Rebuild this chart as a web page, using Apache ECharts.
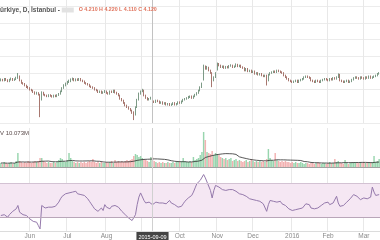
<!DOCTYPE html>
<html><head><meta charset="utf-8">
<script src="https://cdn.jsdelivr.net/npm/echarts@6/dist/echarts.min.js"></script>
<style>html,body{margin:0;padding:0;background:#fff}#c{width:380px;height:240px}</style>
</head><body><div id="c"></div>
<script>
const startDate = '2015-05-07';
const endDate = '2016-03-14';
const crossDate = '2015-09-09';
const titleText = 'ürkiye, D, İstanbul - ';
const ohlcText = 'O 4.210 H 4.220 L 4.110 C 4.120';
const volText = 'V 10.073M';
const rsiBand = [30, 70];
// month tick labels (Jan shown as year); Sep is hidden under the crosshair date box
const monthTickLabels = ['2016','Feb','Mar','Apr','May','Jun','Jul','Aug','','Oct','Nov','Dec'];

const opens = [
4.62,4.64,4.62,4.66,4.63,4.60,4.64,4.66,4.63,4.65,
4.68,4.72,4.62,4.56,4.54,4.50,4.46,4.44,4.40,4.38,
4.34,4.30,4.32,4.28,4.16,4.34,4.28,4.26,4.24,4.27,
4.25,4.23,4.26,4.24,4.27,4.30,4.36,4.44,4.50,4.54,
4.58,4.60,4.64,4.66,4.62,4.65,4.63,4.66,4.62,4.60,
4.56,4.54,4.52,4.48,4.46,4.44,4.40,4.38,4.34,4.36,
4.32,4.34,4.36,4.32,4.30,4.36,4.34,4.38,4.33,4.30,
4.26,4.18,4.14,4.08,4.02,3.98,3.94,3.90,3.84,3.80,
3.98,4.16,4.30,4.36,4.39,4.26,4.20,4.16,4.18,4.21,
4.12,4.10,4.14,4.12,4.08,4.10,4.06,4.08,4.04,4.06,
4.03,4.05,4.08,4.04,4.06,4.10,4.08,4.12,4.16,4.18,
4.20,4.22,4.24,4.20,4.24,4.28,4.32,4.38,4.46,4.64,
4.96,4.90,4.94,4.86,4.80,4.62,4.70,4.88,5.02,4.98,
4.94,4.96,4.92,4.95,4.93,4.97,4.98,4.94,4.96,5.00,
4.96,4.98,4.94,4.92,4.86,4.90,4.84,4.86,4.82,4.84,
4.78,4.80,4.76,4.78,4.74,4.72,4.74,4.62,4.76,4.80,
4.82,4.84,4.82,4.86,4.84,4.82,4.80,4.74,4.70,4.66,
4.62,4.60,4.58,4.60,4.62,4.58,4.62,4.64,4.66,4.70,
4.72,4.70,4.68,4.62,4.60,4.58,4.62,4.60,4.58,4.62,
4.64,4.66,4.64,4.62,4.66,4.64,4.68,4.66,4.70,4.76,
4.62,4.60,4.58,4.60,4.62,4.58,4.60,4.64,4.68,4.70,
4.68,4.66,4.70,4.68,4.66,4.70,4.68,4.72,4.68,4.70,
4.72,4.74,4.78];
const closes = [
4.64,4.62,4.66,4.63,4.60,4.64,4.66,4.63,4.65,4.68,
4.72,4.62,4.56,4.54,4.50,4.46,4.44,4.40,4.38,4.34,
4.30,4.32,4.28,4.16,4.34,4.28,4.26,4.24,4.27,4.25,
4.23,4.26,4.24,4.27,4.30,4.36,4.44,4.50,4.54,4.58,
4.60,4.64,4.66,4.62,4.65,4.63,4.66,4.62,4.60,4.56,
4.54,4.52,4.48,4.46,4.44,4.40,4.38,4.34,4.36,4.32,
4.34,4.36,4.32,4.30,4.36,4.34,4.38,4.33,4.30,4.26,
4.18,4.14,4.08,4.02,3.98,3.94,3.90,3.84,3.80,3.98,
4.16,4.30,4.36,4.39,4.26,4.20,4.16,4.18,4.20,4.12,
4.10,4.14,4.12,4.08,4.10,4.06,4.08,4.04,4.06,4.03,
4.05,4.08,4.04,4.06,4.10,4.08,4.12,4.16,4.18,4.20,
4.22,4.24,4.20,4.24,4.28,4.32,4.38,4.46,4.54,4.96,
4.90,4.94,4.86,4.80,4.62,4.70,4.80,5.02,4.98,4.94,
4.96,4.92,4.95,4.93,4.97,4.98,4.94,4.96,5.00,4.96,
4.98,4.94,4.92,4.86,4.90,4.84,4.86,4.82,4.84,4.78,
4.80,4.76,4.78,4.74,4.72,4.74,4.62,4.76,4.80,4.82,
4.84,4.82,4.86,4.84,4.82,4.80,4.74,4.70,4.66,4.62,
4.60,4.58,4.60,4.62,4.58,4.62,4.64,4.66,4.70,4.72,
4.70,4.68,4.62,4.60,4.58,4.62,4.60,4.58,4.62,4.64,
4.66,4.64,4.62,4.66,4.64,4.68,4.66,4.70,4.76,4.62,
4.60,4.58,4.60,4.62,4.58,4.60,4.64,4.68,4.70,4.68,
4.66,4.70,4.68,4.66,4.70,4.68,4.72,4.68,4.70,4.72,
4.74,4.78,4.80];
const highs = [
4.67,4.66,4.68,4.68,4.65,4.66,4.69,4.68,4.67,4.71,
4.80,4.74,4.64,4.58,4.56,4.52,4.49,4.46,4.42,4.40,
4.36,4.35,4.34,4.30,4.36,4.35,4.30,4.28,4.29,4.29,
4.27,4.28,4.28,4.29,4.32,4.38,4.46,4.53,4.57,4.61,
4.64,4.67,4.69,4.68,4.67,4.67,4.68,4.68,4.64,4.62,
4.58,4.56,4.54,4.50,4.48,4.46,4.42,4.40,4.38,4.38,
4.36,4.39,4.38,4.34,4.38,4.38,4.40,4.40,4.35,4.32,
4.28,4.20,4.16,4.10,4.04,4.00,3.96,3.92,3.88,4.00,
4.18,4.33,4.38,4.42,4.40,4.28,4.22,4.20,4.23,4.22,
4.14,4.16,4.16,4.14,4.12,4.12,4.10,4.10,4.08,4.08,
4.07,4.10,4.10,4.08,4.12,4.12,4.14,4.18,4.20,4.22,
4.25,4.26,4.26,4.26,4.30,4.34,4.40,4.48,4.57,5.00,
4.98,4.97,4.95,4.88,4.82,4.72,4.82,5.05,5.04,5.00,
4.98,4.98,4.97,4.97,4.99,5.01,5.00,4.98,5.03,5.02,
5.00,5.00,4.96,4.94,4.92,4.92,4.88,4.88,4.86,4.86,
4.82,4.82,4.80,4.80,4.76,4.76,4.76,4.78,4.82,4.84,
4.86,4.86,4.88,4.88,4.86,4.84,4.82,4.76,4.72,4.68,
4.64,4.62,4.62,4.64,4.64,4.64,4.66,4.68,4.72,4.74,
4.74,4.72,4.70,4.64,4.62,4.64,4.64,4.62,4.64,4.66,
4.68,4.68,4.66,4.68,4.68,4.70,4.70,4.72,4.79,4.78,
4.64,4.62,4.62,4.64,4.64,4.62,4.66,4.70,4.72,4.72,
4.70,4.72,4.72,4.70,4.72,4.72,4.74,4.74,4.72,4.74,
4.76,4.80,4.82];
const lows = [
4.60,4.60,4.60,4.61,4.58,4.58,4.62,4.61,4.61,4.63,
4.66,4.60,4.54,4.52,4.48,4.44,4.42,4.38,4.36,4.32,
4.28,4.28,4.26,3.74,4.14,4.26,4.24,4.22,4.22,4.23,
4.21,4.21,4.22,4.22,4.25,4.28,4.34,4.42,4.48,4.52,
4.56,4.58,4.62,4.60,4.60,4.61,4.61,4.60,4.58,4.54,
4.52,4.50,4.46,4.44,4.42,4.38,4.36,4.32,4.32,4.30,
4.30,4.32,4.30,4.28,4.28,4.32,4.32,4.31,4.28,4.24,
4.16,4.12,4.06,4.00,3.96,3.92,3.88,3.82,3.67,3.78,
3.96,4.14,4.28,4.34,4.24,4.18,4.14,4.14,4.16,4.11,
4.08,4.08,4.10,4.06,4.06,4.04,4.04,4.02,4.02,4.01,
4.01,4.03,4.02,4.02,4.04,4.06,4.06,4.10,4.14,4.16,
4.18,4.20,4.18,4.18,4.22,4.26,4.30,4.36,4.44,4.62,
4.88,4.88,4.84,4.78,4.46,4.60,4.68,4.86,4.96,4.92,
4.92,4.90,4.90,4.91,4.91,4.95,4.92,4.92,4.94,4.94,
4.94,4.92,4.90,4.84,4.84,4.82,4.82,4.80,4.80,4.76,
4.76,4.74,4.74,4.72,4.70,4.70,4.50,4.60,4.74,4.78,
4.80,4.80,4.80,4.82,4.80,4.78,4.72,4.68,4.64,4.60,
4.58,4.56,4.56,4.58,4.56,4.56,4.60,4.62,4.64,4.68,
4.68,4.66,4.60,4.58,4.56,4.56,4.58,4.56,4.56,4.60,
4.62,4.62,4.60,4.60,4.62,4.62,4.64,4.64,4.68,4.60,
4.58,4.56,4.56,4.58,4.56,4.56,4.58,4.62,4.66,4.66,
4.64,4.64,4.66,4.64,4.64,4.66,4.66,4.66,4.66,4.68,
4.70,4.72,4.76];
// volume in millions
const volumes = [
4,3,5,4,3,4,5,3,4,6,
14,6,5,4,5,4,6,5,4,5,
6,5,6,9,9,6,5,4,5,4,
4,5,4,5,7,9,8,6,5,7,
14,9,6,5,4,5,4,5,4,5,
4,5,6,5,8,5,4,5,4,5,
4,4,5,4,5,6,4,7,5,6,
5,6,5,6,7,6,7,8,11,13,
12,10,11,9,8,7,6,5,10,10.073,
6,5,4,5,4,5,4,4,5,4,
4,5,4,5,6,5,6,9,6,5,
5,6,5,10,7,8,9,12,15,35,
27,15,14,13,16,12,14,13,12,10,
9,8,9,7,8,9,6,7,8,6,
7,6,5,6,7,5,6,8,6,5,
6,5,6,5,6,5,8,18,9,7,
6,14,7,6,5,6,5,6,5,5,
4,5,4,5,4,4,5,4,3,4,
4,3,4,4,3,4,5,4,3,4,
4,3,4,5,4,4,8,5,6,4,
4,3,7,4,3,4,5,4,5,4,
4,5,4,5,4,4,5,4,5,11,
5,6,8];
const rsi = [
32,31,33,31,30,33,35,37,38,40,
44,36,34,33,31,32,30,28,27,25,
26,24,20,16,44,42,41,43,42,40,
42,41,43,45,48,52,55,56,58,60,
59,61,60,59,61,58,60,57,58,56,
55,52,49,46,43,40,38,37,39,41,
38,45,42,41,40,43,42,44,46,42,
40,37,35,33,31,29,28,26,24,33,
45,54,59,57,50,47,46,48,47,45,
46,48,46,47,46,47,48,46,48,50,
47,46,45,43,42,41,43,46,49,51,
53,55,56,60,65,70,72,74,76,81,
77,72,73,62,53,62,68,70,66,64,
63,65,62,64,63,61,63,62,61,60,
58,59,57,56,55,53,52,50,51,49,
50,48,49,47,46,44,37,45,50,51,
49,50,48,47,49,46,45,44,42,40,
39,38,37,39,41,40,42,41,43,46,
48,45,41,39,40,39,41,42,44,45,
47,46,48,45,46,47,49,55,47,43,
42,44,46,48,50,52,54,57,59,55,
53,51,52,53,51,52,53,54,66,60,
56,58,57];

function buildDates(a, b) {
  const out = [];
  let t = Date.parse(a + 'T00:00:00Z');
  const end = Date.parse(b + 'T00:00:00Z');
  while (t <= end) {
    const d = new Date(t);
    const wd = d.getUTCDay();
    if (wd !== 0 && wd !== 6) out.push(d.toISOString().slice(0, 10));
    t += 86400000;
  }
  return out;
}
const dates = buildDates(startDate, endDate);
const isMonthStart = (i) => i > 0 && dates[i] && dates[i - 1] && dates[i].slice(0, 7) !== dates[i - 1].slice(0, 7);
const candle = dates.map((d, i) => [opens[i], closes[i], lows[i], highs[i]]);
// 20-period simple moving average of volume
const volMA = volumes.map((v, i) => {
  const s = Math.max(0, i - 19);
  const w = volumes.slice(s, i + 1);
  return +(w.reduce((a, b) => a + b, 0) / w.length).toFixed(3);
});

const UP = '#7d9a86', DOWN = '#a8776f';
const FONT = 'Liberation Sans, Arial, sans-serif';
const gridLineColor = '#e8e8e8';

function xAx(grid, extra) {
  return Object.assign({
    type: 'category', gridIndex: grid, data: dates, boundaryGap: true,
    axisTick: { show: false }, axisLabel: { show: false }, axisLine: { show: false },
    splitLine: { show: true, interval: (i) => isMonthStart(i), lineStyle: { color: gridLineColor, width: 1 } }
  }, extra || {});
}
const crossLine = { xAxis: crossDate };

const chart = echarts.init(document.getElementById('c'), null, { renderer: 'canvas' });
chart.setOption({
  animation: false,
  backgroundColor: '#ffffff',
  textStyle: { fontFamily: FONT },
  title: [
    {
      left: 0, top: 0, padding: [1, 0, 0, 0],
      text: '{a|' + titleText + '}{b|}{s|}{c|' + ohlcText + '}',
      textStyle: {
        rich: {
          a: { fontSize: 6.5, color: '#555555', fontFamily: FONT },
          b: { width: 12, height: 5, backgroundColor: '#e2e2e2' },
          s: { width: 5 },
          c: { fontSize: 5.3, color: '#e0735c', fontFamily: FONT }
        }
      }
    },
    { left: 0, top: 130, padding: 0, text: volText, textStyle: { fontSize: 6, color: '#5a4a4a', fontWeight: 'normal', fontFamily: FONT } }
  ],
  grid: [
    { left: 0, right: 0, top: 0, height: 123 },
    { left: 0, right: 0, top: 128, height: 39 },
    { left: 0, right: 0, top: 167, height: 65 }
  ],
  xAxis: [
    xAx(0),
    xAx(1, { position: 'top', axisLine: { show: true, lineStyle: { color: '#a0a0a0', width: 1 } } }),
    xAx(2, { position: 'top', axisLine: { show: true, lineStyle: { color: '#a0a0a0', width: 1 } } }),
    xAx(2, {
      position: 'bottom',
      axisLine: { show: true, lineStyle: { color: '#dcdcdc', width: 1 } },
      splitLine: { show: false },
      axisLabel: {
        show: true, margin: 2, fontSize: 6.5, color: '#8a8a8a', fontFamily: FONT,
        interval: (i) => isMonthStart(i) && monthTickLabels[parseInt(dates[i].slice(5, 7), 10) - 1] !== '',
        formatter: (v) => monthTickLabels[parseInt(v.slice(5, 7), 10) - 1]
      }
    })
  ],
  yAxis: [
    { type: 'value', gridIndex: 0, min: 3.6, max: 6.552, interval: 0.4,
      axisLabel: { show: false }, axisLine: { show: false }, axisTick: { show: false },
      splitLine: { show: true, showMaxLine: false, lineStyle: { color: '#ececec' } } },
    { type: 'value', gridIndex: 1, min: 0, max: 39, show: false, splitLine: { show: false } },
    { type: 'value', gridIndex: 2, min: 13.5, max: 90, show: false, splitLine: { show: false } }
  ],
  series: [
    {
      type: 'candlestick', xAxisIndex: 0, yAxisIndex: 0, data: candle, barMaxWidth: 2,
      itemStyle: { color: UP, color0: DOWN, borderColor: UP, borderColor0: DOWN, borderWidth: 1 },
      markLine: { silent: true, symbol: 'none', label: { show: false },
        lineStyle: { color: '#c2c2c2', type: 'solid', width: 1 }, data: [crossLine] }
    },
    {
      type: 'bar', xAxisIndex: 1, yAxisIndex: 1, data: volumes, barCategoryGap: '15%',
      itemStyle: { color: (p) => closes[p.dataIndex] >= opens[p.dataIndex] ? 'rgba(83,185,120,0.6)' : 'rgba(230,100,100,0.5)' },
      markLine: { silent: true, symbol: 'none', label: { show: false },
        lineStyle: { color: '#d0d0d0', type: 'solid', width: 1 }, data: [crossLine] }
    },
    {
      type: 'line', xAxisIndex: 1, yAxisIndex: 1, data: volMA, symbol: 'none',
      lineStyle: { color: '#3a3a3a', width: 1, opacity: 0.85 }
    },
    {
      type: 'line', xAxisIndex: 2, yAxisIndex: 2, data: rsi, symbol: 'none',
      lineStyle: { color: '#9479ab', width: 1 },
      markArea: { silent: true, itemStyle: { color: '#f5e7f3' },
        data: [[{ yAxis: rsiBand[0] }, { yAxis: rsiBand[1] }]] },
      markLine: {
        silent: true, symbol: 'none',
        data: [
          { yAxis: rsiBand[1], label: { show: false }, lineStyle: { color: '#d3c2d3', type: 'solid', width: 1 } },
          { yAxis: rsiBand[0], label: { show: false }, lineStyle: { color: '#b9a6b9', type: 'solid', width: 1 } },
          { xAxis: crossDate, lineStyle: { color: '#d0d0d0', type: 'solid', width: 1 },
            label: { show: true, position: 'start', distance: 1, formatter: crossDate,
              backgroundColor: '#444444', color: '#ffffff', fontSize: 5.5, padding: [2, 2, 1, 2], fontFamily: FONT } }
        ]
      }
    }
  ]
});
</script></body></html>
